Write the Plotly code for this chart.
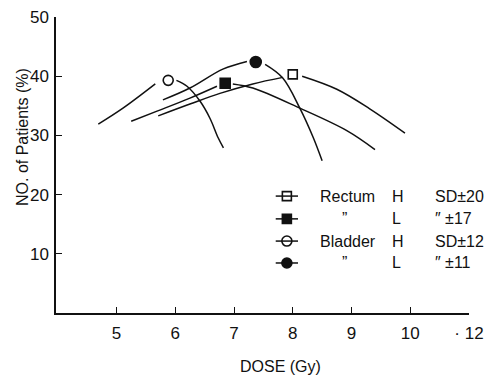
import plotly.graph_objects as go

# ---- data ----
# each curve: left arm, gap (None), right arm; peak marker separately
rectum_h_x = [5.71, 6.25, 6.76, 7.32, 7.83, None, 8.16, 8.75, 9.31, 9.91]
rectum_h_y = [33.3, 35.3, 37.1, 38.7, 39.8, None, 40.0, 37.8, 34.5, 30.4]
rectum_h_peak = (8.00, 40.3)

rectum_l_x = [5.25, 5.69, 6.25, 6.71, None, 6.98, 7.32, 8.12, 8.92, 9.40]
rectum_l_y = [32.4, 34.1, 36.3, 38.3, None, 38.7, 38.0, 34.6, 30.8, 27.6]
rectum_l_peak = (6.85, 38.8)

bladder_h_x = [4.69, 5.11, 5.66, None, 6.02, 6.20, 6.42, 6.59, 6.73, 6.82]
bladder_h_y = [31.9, 34.6, 38.7, None, 39.3, 38.3, 35.8, 32.9, 29.6, 27.9]
bladder_h_peak = (5.88, 39.3)

bladder_l_x = [5.79, 6.25, 6.81, 7.22, None, 7.53, 7.83, 8.12, 8.35, 8.50]
bladder_l_y = [36.0, 38.0, 41.2, 42.5, None, 42.0, 39.7, 34.6, 29.6, 25.7]
bladder_l_peak = (7.37, 42.4)

x_tickvals = [5, 6, 7, 8, 9, 10, 11]
x_ticktext = ["5", "6", "7", "8", "9", "10", "\u00b7 12"]
y_tickvals = [10, 20, 30, 40, 50]

legend_rows = [
    ("square-open", "Rectum", "H", "SD\u00b120"),
    ("square", "\u201d", "L", "\u2033 \u00b117"),
    ("circle-open", "Bladder", "H", "SD\u00b112"),
    ("circle", "\u201d", "L", "\u2033 \u00b111"),
]

FONT = "Liberation Sans, Arial, sans-serif"
BLACK = "#111"

fig = go.Figure()

series = [
    (rectum_h_x, rectum_h_y, rectum_h_peak, "square-open", 9),
    (rectum_l_x, rectum_l_y, rectum_l_peak, "square", 10),
    (bladder_h_x, bladder_h_y, bladder_h_peak, "circle-open", 10),
    (bladder_l_x, bladder_l_y, bladder_l_peak, "circle", 11),
]
for xs, ys, peak, sym, sz in series:
    fig.add_trace(go.Scatter(x=xs, y=ys, mode="lines", line=dict(color=BLACK, width=1.5, shape="spline"),
                             connectgaps=False, showlegend=False, hoverinfo="skip"))
    fig.add_trace(go.Scatter(x=[peak[0]], y=[peak[1]], mode="markers",
                             marker=dict(symbol=sym, size=sz, color=BLACK, line=dict(color=BLACK, width=1.6)),
                             showlegend=False))

# legend drawn manually on an overlay axis (0..1 of plot area)
row_y = [0.395, 0.318, 0.243, 0.169]
for (sym, name, hl, sd), ry in zip(legend_rows, row_y):
    fig.add_trace(go.Scatter(x=[0.532, 0.586], y=[ry, ry], mode="lines", line=dict(color=BLACK, width=1.5),
                             xaxis="x2", yaxis="y2", showlegend=False, hoverinfo="skip"))
    fig.add_trace(go.Scatter(x=[0.559], y=[ry], mode="markers",
                             marker=dict(symbol=sym, size=9 if "square" in sym else 10, color=BLACK,
                                         line=dict(color=BLACK, width=1.6)),
                             xaxis="x2", yaxis="y2", showlegend=False, hoverinfo="skip"))
    name_x = 0.634 if name != "\u201d" else 0.688
    fig.add_annotation(x=name_x, y=ry, xref="paper", yref="paper", text=name, showarrow=False,
                       xanchor="left", yanchor="middle", font=dict(family=FONT, size=16, color=BLACK))
    fig.add_annotation(x=0.809, y=ry, xref="paper", yref="paper", text=hl, showarrow=False,
                       xanchor="left", yanchor="middle", font=dict(family=FONT, size=16, color=BLACK))
    fig.add_annotation(x=0.912, y=ry, xref="paper", yref="paper", text=sd, showarrow=False,
                       xanchor="left", yanchor="middle", font=dict(family=FONT, size=16, color=BLACK))

# axis titles placed as annotations to match their offset positions
fig.add_annotation(x=(280 - 56) / 413, y=-63 / 296, xref="paper", yref="paper",
                   text="DOSE (Gy)", showarrow=False, xanchor="center", yanchor="bottom",
                   borderpad=0, font=dict(family=FONT, size=16, color=BLACK))
fig.add_annotation(x=-(56 - 22) / 413, y=(313 - 137) / 296, xref="paper", yref="paper",
                   text="NO. of Patients (%)", showarrow=False, textangle=-90,
                   xanchor="center", yanchor="middle",
                   font=dict(family=FONT, size=16, color=BLACK))

# page body has an 8px margin, so the figure is sized/offset to compensate
fig.update_layout(
    width=485, height=368,
    margin=dict(l=48, r=24, t=9, b=63),
    paper_bgcolor="white", plot_bgcolor="white",
    font=dict(family=FONT, size=17, color=BLACK),
    xaxis=dict(range=[3.97, 11], tickvals=x_tickvals, ticktext=x_ticktext, ticks="inside", ticklen=6,
               tickcolor=BLACK, tickwidth=1.2, showline=True, linecolor=BLACK, linewidth=1.5,
               showgrid=False, zeroline=False, tickfont=dict(size=17), automargin=False,
               ticklabelstandoff=4, ticklabeloverflow="allow"),
    yaxis=dict(range=[0, 50], tickvals=y_tickvals, ticks="inside", ticklen=6,
               tickcolor=BLACK, tickwidth=1.2, showline=True, linecolor=BLACK, linewidth=1.5,
               showgrid=False, zeroline=False, tickfont=dict(size=17), ticklabelstandoff=2,
               automargin=False, ticklabeloverflow="allow"),
    xaxis2=dict(range=[0, 1], overlaying="x", visible=False, fixedrange=True),
    yaxis2=dict(range=[0, 1], overlaying="y", visible=False, fixedrange=True),
    showlegend=False,
)

fig.write_html("out.html")
